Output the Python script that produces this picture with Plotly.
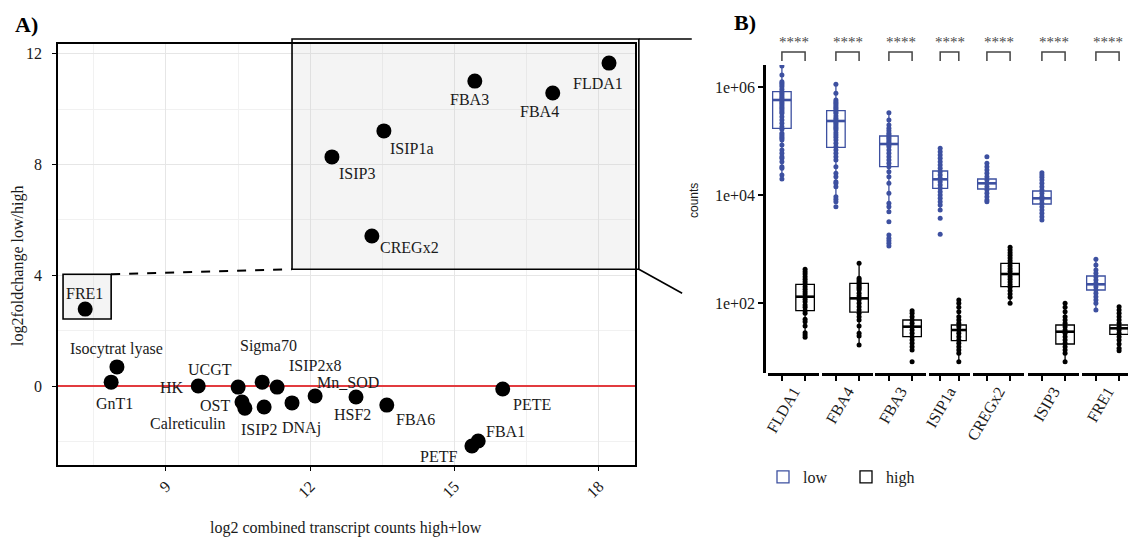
import plotly.graph_objects as go

# page has an 8px body margin: figure is placed at (8, 8) inside the 1136x542 window
OFF = 8
FW, FH = 1136 - OFF, 542 - OFF
SERIF = "Liberation Serif"
SANS = "Liberation Sans"
BLUE = "#3D50A0"
TXT = "#1a1a1a"

# ---------------- Panel A data ----------------
genes_a = ["FLDA1", "FBA3", "FBA4", "ISIP1a", "ISIP3", "CREGx2", "FRE1",
           "Isocytrat lyase", "GnT1", "HK", "UCGT", "OST", "Calreticulin",
           "Sigma70", "ISIP2", "ISIP2x8", "DNAj", "Mn_SOD", "HSF2", "FBA6",
           "PETE", "FBA1", "PETF"]
log2_counts = [18.21, 15.42, 17.04, 13.53, 12.45, 13.28, 7.32,
               7.98, 7.86, 9.67, 10.50, 10.58, 10.64,
               11.00, 11.04, 11.31, 11.62, 12.10, 12.95, 13.59,
               16.00, 15.49, 15.36]
log2_fc = [11.67, 11.02, 10.59, 9.22, 8.28, 5.42, 2.78,
           0.69, 0.14, 0.00, -0.04, -0.58, -0.80,
           0.14, -0.76, -0.04, -0.61, -0.36, -0.40, -0.69,
           -0.11, -1.99, -2.17]
# label offsets in pixels (right, down)
label_dx = [-11, -5, -13, 28, 25, 38, -1, 0, 3, -26, -28, -27, -57,
            6, -5, 38, 9, 33, -4, 29, 29, 27, -33]
label_dy = [20, 18, 19, 18, 17, 11, -16, -18, 21, 1, -18, 3, 15,
            -36, 22, -22, 25, -13, 17, 14, 15, -10, 10]

xa_range = [6.755, 18.75]
ya_range = [-2.855, 12.36]
ya_ticks = [0, 4, 8, 12]
zoom_box = [11.62, 18.83, 4.22, 12.54]   # x0, x1, y0, y1
fre1_box = [6.86, 7.86, 2.42, 4.04]

# ---------------- Panel B data (log10 counts) ----------------
genes_b = ["FLDA1", "FBA4", "FBA3", "ISIP1a", "CREGx2", "ISIP3", "FRE1"]

flda1_low = [6.389, 6.222, 6.098, 6.068, 6.037, 6.006, 5.956, 5.913, 5.882, 5.852, 5.821, 5.790,
             5.759, 5.728, 5.697, 5.666, 5.635, 5.605, 5.574, 5.543, 5.512, 5.450, 5.389, 5.327,
             5.265, 5.216, 5.142, 5.111, 5.080, 5.049, 5.019, 4.926, 4.833, 4.772, 4.710, 4.679,
             4.617, 4.525, 4.494, 4.370, 4.296]
fba4_low = [6.049, 5.882, 5.759, 5.728, 5.697, 5.666, 5.635, 5.605, 5.574, 5.543, 5.512, 5.463,
            5.419, 5.389, 5.358, 5.327, 5.296, 5.265, 5.234, 5.203, 5.154, 5.111, 5.068, 5.019,
            4.956, 4.895, 4.833, 4.772, 4.710, 4.648, 4.525, 4.401, 4.339, 4.247, 4.216, 4.154,
            3.969, 3.919, 3.876, 3.784]
fba3_low = [5.524, 5.389, 5.296, 5.234, 5.191, 5.142, 5.111, 5.080, 5.049, 5.019, 4.987, 4.956,
            4.926, 4.895, 4.833, 4.772, 4.710, 4.648, 4.586, 4.525, 4.432, 4.339, 4.216, 4.030,
            3.846, 3.784, 3.691, 3.506, 3.259, 3.198, 3.154, 3.106, 3.056]
isip1a_low = [4.864, 4.802, 4.740, 4.679, 4.617, 4.555, 4.494, 4.432, 4.370, 4.308, 4.247, 4.185,
              4.123, 4.061, 4.000, 3.938, 3.876, 3.815, 3.722, 3.568, 3.271]
cregx2_low = [4.710, 4.586, 4.525, 4.463, 4.401, 4.339, 4.277, 4.216, 4.154, 4.092, 4.030, 3.969,
              3.907, 3.876]
isip3_low = [4.413, 4.370, 4.327, 4.277, 4.216, 4.154, 4.092, 4.030, 3.969, 3.907, 3.846, 3.784,
             3.722, 3.660, 3.599, 3.537]
fre1_low = [2.809, 2.704, 2.611, 2.549, 2.488, 2.426, 2.364, 2.302, 2.241, 2.179, 2.117, 2.056,
            1.994, 1.870]

flda1_high = [2.623, 2.580, 2.537, 2.488, 2.438, 2.395, 2.352, 2.302, 2.253, 2.210, 2.167, 2.117,
              2.068, 2.025, 1.963, 1.920, 1.858, 1.809, 1.698, 1.654, 1.574, 1.451, 1.407, 1.364]
fba4_high = [2.735, 2.457, 2.426, 2.395, 2.364, 2.333, 2.302, 2.272, 2.241, 2.179, 2.130, 2.056,
             1.994, 1.932, 1.870, 1.809, 1.747, 1.685, 1.574, 1.438, 1.389, 1.222]
fba3_high = [1.858, 1.809, 1.747, 1.685, 1.624, 1.562, 1.500, 1.438, 1.377, 1.315, 1.253, 1.191,
             1.130, 0.914]
isip1a_high = [2.056, 1.994, 1.920, 1.840, 1.747, 1.685, 1.624, 1.562, 1.500, 1.438, 1.377, 1.315,
               1.253, 1.191, 1.130, 1.068, 0.914]
cregx2_high = [3.031, 2.981, 2.932, 2.883, 2.833, 2.784, 2.735, 2.685, 2.636, 2.586, 2.537, 2.488,
               2.438, 2.389, 2.339, 2.290, 2.228, 2.167, 2.105, 1.994]
isip3_high = [1.994, 1.920, 1.840, 1.747, 1.685, 1.624, 1.562, 1.500, 1.438, 1.377, 1.315, 1.253,
              1.191, 1.130, 1.068, 0.914]
fre1_high = [1.932, 1.870, 1.809, 1.747, 1.685, 1.624, 1.562, 1.500, 1.438, 1.377, 1.315, 1.241,
             1.160, 1.117]

low_q1 = [5.235, 4.882, 4.524, 4.124, 4.111, 3.833, 2.241]
low_med = [5.759, 5.370, 4.944, 4.290, 4.216, 3.938, 2.346]
low_q3 = [5.913, 5.561, 5.092, 4.444, 4.296, 4.074, 2.500]
high_q1 = [1.858, 1.833, 1.377, 1.302, 2.302, 1.241, 1.420]
high_med = [2.117, 2.086, 1.562, 1.500, 2.537, 1.469, 1.531]
high_q3 = [2.346, 2.364, 1.685, 1.593, 2.735, 1.593, 1.593]
signif = ["****"] * 7

low_points = [flda1_low, fba4_low, fba3_low, isip1a_low, cregx2_low, isip3_low, fre1_low]
high_points = [flda1_high, fba4_high, fba3_high, isip1a_high, cregx2_high, isip3_high, fre1_high]

yb_range = [0.704, 6.407]
facet_px = [(768, 819), (822, 873), (875, 926), (929, 970), (973, 1024), (1028, 1079), (1082, 1133)]
xb_range = [-0.6, 1.6]
BOXW = 0.8


def fx(p):
    return (p - OFF) / FW


def fy(p):
    return 1 - (p - OFF) / FH


def ax_dom(v):
    return (v - xa_range[0]) / (xa_range[1] - xa_range[0])


def ay_dom(v):
    return (v - ya_range[0]) / (ya_range[1] - ya_range[0])


def fb(v):
    return (v - xb_range[0]) / (xb_range[1] - xb_range[0])


def fences(vals, q1, q3):
    iqr = q3 - q1
    lo = min(v for v in vals if v >= q1 - 1.5 * iqr)
    hi = max(v for v in vals if v <= q3 + 1.5 * iqr)
    return lo, hi


fig = go.Figure()

# ---- Panel A traces ----
fig.add_trace(go.Scatter(
    x=log2_counts, y=log2_fc, mode="markers",
    marker=dict(size=15, color="black"), showlegend=False,
    xaxis="x", yaxis="y", hoverinfo="text", text=genes_a))

annotations = []
for g, xv, yv, dx, dy in zip(genes_a, log2_counts, log2_fc, label_dx, label_dy):
    annotations.append(dict(x=xv, y=yv, xref="x", yref="y", text=g, showarrow=False,
                            xanchor="center", yanchor="middle",
                            xshift=dx, yshift=-dy,
                            font=dict(family=SERIF, size=16, color=TXT)))
# y tick labels of panel A (placed further from the axis, as in the reference)
for v in ya_ticks:
    annotations.append(dict(x=0, xref="x domain", y=v, yref="y", text=str(v), showarrow=False,
                            xanchor="right", yanchor="middle", xshift=-14,
                            font=dict(family=SERIF, size=16, color=TXT)))

# ---- Panel B traces ----
layout_axes = {}
for k, gene in enumerate(genes_b):
    xa = "x%d" % (k + 2)
    groups = [("low", BLUE, low_points[k], low_q1[k], low_med[k], low_q3[k], 0),
              ("high", "black", high_points[k], high_q1[k], high_med[k], high_q3[k], 1)]
    for name, col, pts, q1, med, q3, pos in groups:
        lo, hi = fences(pts, q1, q3)
        fig.add_trace(go.Box(
            x=[pos], q1=[10 ** q1], median=[10 ** med], q3=[10 ** q3],
            lowerfence=[10 ** lo], upperfence=[10 ** hi],
            width=BOXW, whiskerwidth=0, boxpoints=False,
            line=dict(color=col, width=1.3), fillcolor="rgba(0,0,0,0)",
            name=name, legendgroup=name, showlegend=(k == 0),
            xaxis=xa, yaxis="y2", hoverinfo="skip"))
        fig.add_trace(go.Scatter(
            x=[pos - BOXW / 2, pos + BOXW / 2], y=[10 ** med, 10 ** med], mode="lines",
            line=dict(color=col, width=2.6), showlegend=False,
            xaxis=xa, yaxis="y2", hoverinfo="skip"))
        fig.add_trace(go.Scatter(
            x=[pos] * len(pts), y=[10 ** v for v in pts], mode="markers",
            marker=dict(size=5, color=col), showlegend=False,
            xaxis=xa, yaxis="y2", hoverinfo="skip"))

    p0, p1 = facet_px[k]
    layout_axes["xaxis%d" % (k + 2)] = dict(
        domain=[fx(p0), fx(p1)], range=xb_range, anchor="y2",
        showgrid=False, zeroline=False, showline=True, linecolor="black", linewidth=3,
        tickmode="array", tickvals=[0.5], ticktext=[gene], ticks="", tickangle=-60,
        tickfont=dict(family=SERIF, size=16, color=TXT),
        minor=dict(tickmode="array", tickvals=[0, 1], ticks="outside", ticklen=5,
                   tickwidth=2, tickcolor="black"),
        automargin=False, fixedrange=True)
    annotations.append(dict(x=0.5, xref=xa, y=fy(42), yref="paper", text=signif[k],
                            xanchor="center", yanchor="middle",
                            showarrow=False, font=dict(family=SERIF, size=15, color="#4a4a4a")))

# ---- Shapes ----
shapes = []
# red zero line (between grid and points)
shapes.append(dict(type="line", xref="x", yref="y", x0=xa_range[0], x1=xa_range[1], y0=0, y1=0,
                   line=dict(color="#E23B3F", width=2), layer="between"))
# zoom box fill (clipped to panel), outline drawn unclipped on top
shapes.append(dict(type="rect", xref="x", yref="y",
                   x0=zoom_box[0], x1=zoom_box[1], y0=zoom_box[2], y1=zoom_box[3],
                   fillcolor="rgba(200,200,200,0.2)", line=dict(width=0), layer="between"))
shapes.append(dict(type="rect", xref="x domain", yref="y domain",
                   x0=ax_dom(zoom_box[0]), x1=ax_dom(zoom_box[1]),
                   y0=ay_dom(zoom_box[2]), y1=ay_dom(zoom_box[3]),
                   fillcolor="rgba(0,0,0,0)", line=dict(color="black", width=1.6), layer="above"))
shapes.append(dict(type="rect", xref="x", yref="y",
                   x0=fre1_box[0], x1=fre1_box[1], y0=fre1_box[2], y1=fre1_box[3],
                   fillcolor="rgba(200,200,200,0.2)", line=dict(color="black", width=1.6),
                   layer="between"))
shapes.append(dict(type="line", xref="x domain", yref="y domain",
                   x0=ax_dom(fre1_box[1]), y0=ay_dom(fre1_box[3]),
                   x1=ax_dom(zoom_box[0]), y1=ay_dom(zoom_box[2]),
                   line=dict(color="black", width=2, dash="dash"), layer="above"))
shapes.append(dict(type="line", xref="x domain", yref="y domain",
                   x0=ax_dom(zoom_box[1]), y0=ay_dom(zoom_box[3]),
                   x1=ax_dom(19.93), y1=ay_dom(zoom_box[3]),
                   line=dict(color="black", width=1.6), layer="above"))
shapes.append(dict(type="line", xref="x domain", yref="y domain",
                   x0=ax_dom(zoom_box[1]), y0=ay_dom(zoom_box[2]),
                   x1=ax_dom(19.73), y1=ay_dom(3.35),
                   line=dict(color="black", width=1.6), layer="above"))
for k in range(len(genes_b)):
    xr = "x%d domain" % (k + 2)
    path = "M %f,%f L %f,%f L %f,%f L %f,%f" % (fb(0), fy(61), fb(0), fy(52), fb(1), fy(52), fb(1), fy(61))
    shapes.append(dict(type="path", xref=xr, yref="paper", path=path,
                       line=dict(color="#444444", width=1.5), layer="above"))

# ---- Text annotations ----
def ptxt(x, y, text, size, family=SERIF, angle=0, color=TXT):
    return dict(x=fx(x), y=fy(y), xref="paper", yref="paper", text=text, showarrow=False,
                xanchor="center", yanchor="middle", textangle=angle,
                font=dict(family=family, size=size, color=color))


annotations += [
    ptxt(26, 25, "<b>A)</b>", 22, color="black"),
    ptxt(745, 23, "<b>B)</b>", 22, color="black"),
    ptxt(18, 266, "log2foldchange low/high", 16, angle=-90),
    ptxt(346, 528, "log2 combined transcript counts high+low", 16),
    ptxt(694, 201, "counts", 12, family=SANS, angle=-90),
]

grid_major = "#e6e6e6"
grid_minor = "#f1f1f1"
fig.update_layout(
    width=FW, height=FH, margin=dict(l=0, r=0, t=0, b=0),
    template="none", paper_bgcolor="white", plot_bgcolor="white",
    font=dict(family=SERIF, size=15, color=TXT),
    xaxis=dict(domain=[fx(58), fx(635)], range=xa_range, anchor="y",
               tickmode="linear", tick0=0, dtick=3, tickangle=-45,
               showgrid=True, gridcolor=grid_major, gridwidth=1,
               minor=dict(dtick=1.5, tick0=0, showgrid=True, gridcolor=grid_minor, gridwidth=1),
               zeroline=False, showline=True, mirror=True, linecolor="black", linewidth=1.5,
               ticks="outside", ticklen=4, tickwidth=1, tickcolor="black",
               tickfont=dict(family=SERIF, size=16, color=TXT), automargin=False),
    yaxis=dict(domain=[fy(465), fy(44)], range=ya_range, anchor="x",
               tickmode="array", tickvals=ya_ticks, showticklabels=False,
               showgrid=True, gridcolor=grid_major, gridwidth=1,
               minor=dict(dtick=2, tick0=0, showgrid=True, gridcolor=grid_minor, gridwidth=1),
               zeroline=False, showline=True, mirror=True, linecolor="black", linewidth=1.5,
               ticks="outside", ticklen=4, tickwidth=1, tickcolor="black",
               automargin=False),
    yaxis2=dict(domain=[fy(373), fy(65)], type="log", range=yb_range,
                anchor="free", position=fx(764),
                showgrid=False, zeroline=False, showline=True, linecolor="black", linewidth=2.5,
                tickmode="array", tickvals=[1e2, 1e4, 1e6], ticktext=["1e+02", "1e+04", "1e+06"],
                ticks="outside", ticklen=5, tickwidth=1.5, tickcolor="black",
                tickfont=dict(family=SERIF, size=16, color=TXT), automargin=False),
    legend=dict(orientation="h", x=fx(763), y=fy(460), xanchor="left", yanchor="top",
                font=dict(family=SERIF, size=16, color=TXT), bgcolor="rgba(0,0,0,0)",
                traceorder="normal", entrywidth=38, entrywidthmode="pixels"),
    showlegend=True,
    shapes=shapes, annotations=annotations,
    **layout_axes,
)

fig.write_html("out.html")
